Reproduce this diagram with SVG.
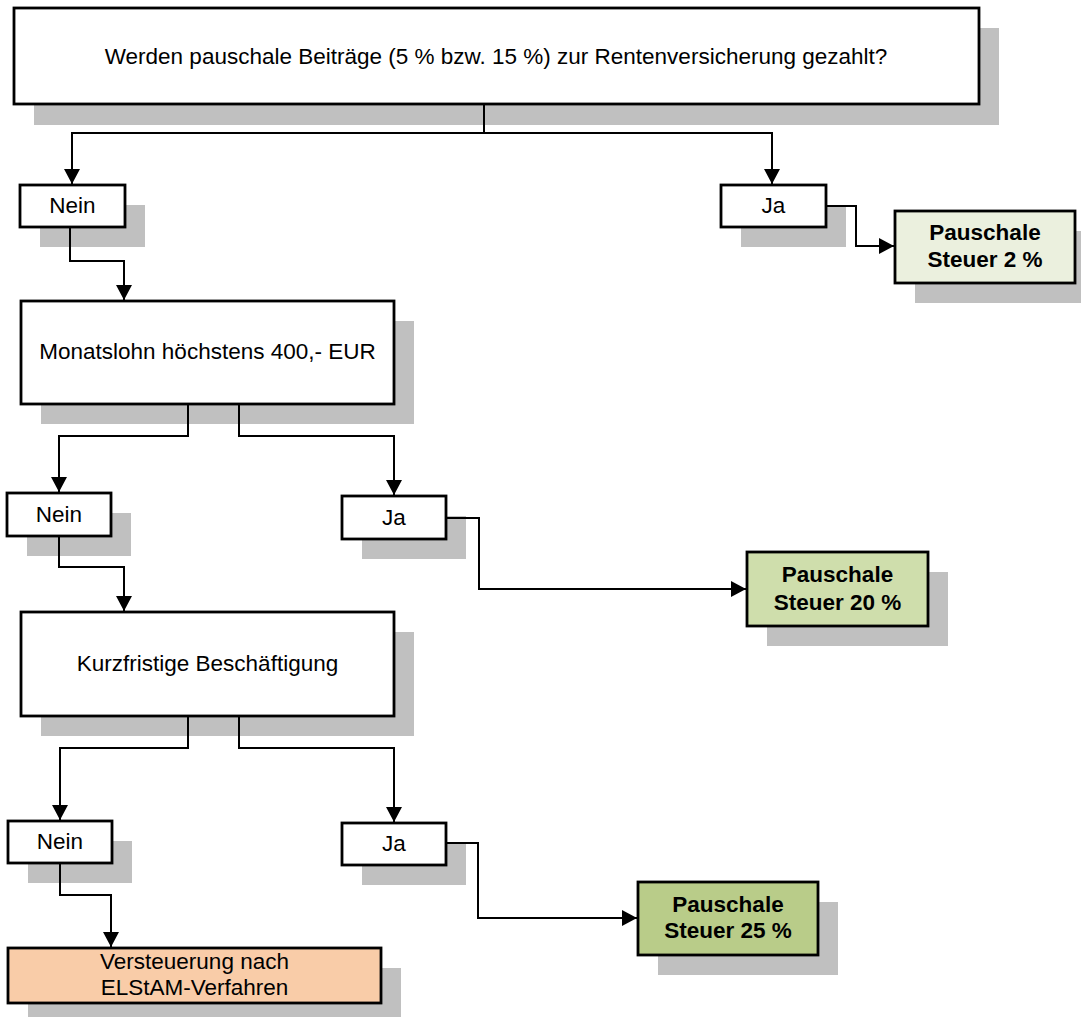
<svg xmlns="http://www.w3.org/2000/svg" width="1081" height="1017" viewBox="0 0 1081 1017">
<style>
.sh{fill:#c0c0c0;stroke:none}
.bx{fill:#ffffff;stroke:#000;stroke-width:2.8}
.t{font-family:"Liberation Sans",Arial,sans-serif;font-size:22.5px;fill:#000;text-anchor:middle}
.b{font-weight:bold}
.c{fill:none;stroke:#000;stroke-width:2;marker-end:url(#ah)}
.cn{fill:none;stroke:#000;stroke-width:2}
</style>
<defs>
<marker id="ah" markerUnits="userSpaceOnUse" markerWidth="16" markerHeight="17" refX="15" refY="8" orient="auto">
<path d="M0,0 L15,8 L0,16 Z" fill="#000"/>
</marker>
</defs>
<rect width="1081" height="1017" fill="#ffffff"/>

<g id="q1">
<rect class="sh" x="34" y="28" width="965" height="97"/>
<rect class="bx" x="14" y="8" width="965" height="96"/>
<text class="t" x="496" y="64">Werden pauschale Beiträge (5 % bzw. 15 %) zur Rentenversicherung gezahlt?</text>
</g>
<g id="nein1">
<rect class="sh" x="40" y="205" width="105" height="42"/>
<rect class="bx" x="20" y="185" width="105" height="42"/>
<text class="t" x="72.5" y="213">Nein</text>
</g>
<g id="ja1">
<rect class="sh" x="741" y="205" width="105" height="42"/>
<rect class="bx" x="721" y="185" width="105" height="42"/>
<text class="t" x="773.5" y="213">Ja</text>
</g>
<g id="res2">
<rect class="sh" x="915" y="231" width="180" height="72"/>
<rect class="bx" x="895" y="211" width="180" height="72" style="fill:#ebf0de"/>
<text class="t b" x="985" y="240">Pauschale</text>
<text class="t b" x="985" y="267">Steuer 2 %</text>
</g>
<g id="q2">
<rect class="sh" x="41" y="321" width="373" height="103"/>
<rect class="bx" x="21" y="301" width="373" height="103"/>
<text class="t" x="207.5" y="359">Monatslohn höchstens 400,- EUR</text>
</g>
<g id="nein2">
<rect class="sh" x="27" y="513" width="104" height="43"/>
<rect class="bx" x="7" y="493" width="104" height="43"/>
<text class="t" x="59" y="522">Nein</text>
</g>
<g id="ja2">
<rect class="sh" x="362" y="516" width="104" height="43"/>
<rect class="bx" x="342" y="496" width="104" height="43"/>
<text class="t" x="394" y="525">Ja</text>
</g>
<g id="res20">
<rect class="sh" x="767" y="572" width="181" height="74"/>
<rect class="bx" x="747" y="552" width="181" height="74" style="fill:#cfdeac"/>
<text class="t b" x="837.5" y="582">Pauschale</text>
<text class="t b" x="837.5" y="610">Steuer 20 %</text>
</g>
<g id="q3">
<rect class="sh" x="41" y="632" width="373" height="104"/>
<rect class="bx" x="21" y="612" width="373" height="104"/>
<text class="t" x="207.5" y="671">Kurzfristige Beschäftigung</text>
</g>
<g id="nein3">
<rect class="sh" x="28" y="841" width="104" height="42"/>
<rect class="bx" x="8" y="821" width="104" height="42"/>
<text class="t" x="60" y="849">Nein</text>
</g>
<g id="ja3">
<rect class="sh" x="362" y="843" width="104" height="42"/>
<rect class="bx" x="342" y="823" width="104" height="42"/>
<text class="t" x="394" y="851">Ja</text>
</g>
<g id="res25">
<rect class="sh" x="658" y="902" width="180" height="73"/>
<rect class="bx" x="638" y="882" width="180" height="73" style="fill:#b9cc89"/>
<text class="t b" x="728" y="912">Pauschale</text>
<text class="t b" x="728" y="938">Steuer 25 %</text>
</g>
<g id="elstam">
<rect class="sh" x="28" y="968" width="373" height="55"/>
<rect class="bx" x="8" y="948" width="373" height="55" style="fill:#f9cca8"/>
<text class="t" x="194.5" y="969">Versteuerung nach</text>
<text class="t" x="194.5" y="995">ELStAM-Verfahren</text>
</g>

<g id="connectors">
<path class="c" d="M484,104 V133 H72 V184"/>
<path class="c" d="M484,133 H772 V184"/>
<path class="c" d="M826,206 H856 V246 H894"/>
<path class="c" d="M70,227 V261 H124 V300"/>
<path class="c" d="M188,404 V436 H59 V492"/>
<path class="c" d="M239,404 V436 H394 V495"/>
<path class="c" d="M446,518 H479 V589 H746"/>
<path class="c" d="M59,536 V567 H124 V611"/>
<path class="c" d="M188,716 V748 H60 V820"/>
<path class="c" d="M239,716 V748 H394 V822"/>
<path class="c" d="M446,843 H478 V918 H637"/>
<path class="c" d="M60,863 V895 H111 V947"/>
</g>
</svg>
